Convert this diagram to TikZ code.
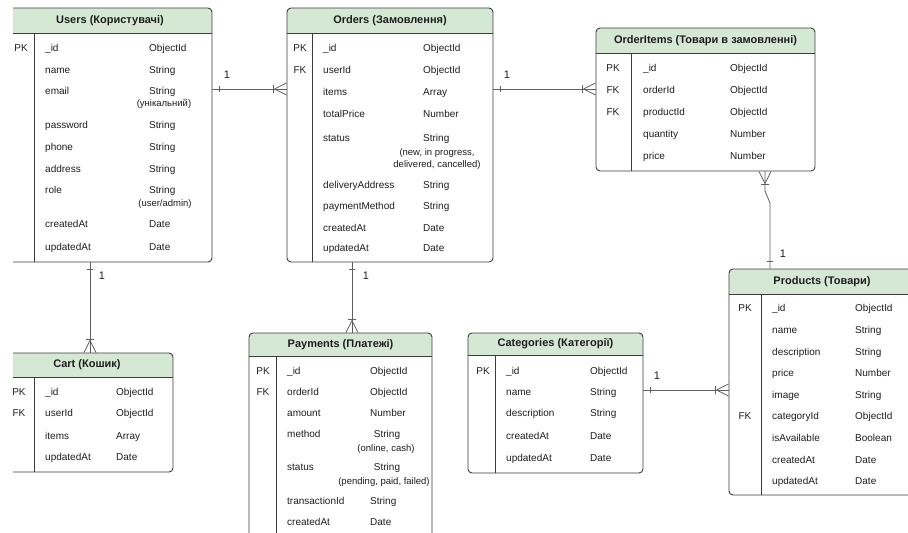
\documentclass[tikz,border=0pt]{standalone}
\usepackage{fontspec}
\setmainfont{Liberation Sans}
\usetikzlibrary{decorations.markings}
\definecolor{headgreen}{RGB}{213,232,212}
\definecolor{boxgray}{RGB}{60,60,60}
\definecolor{linkgray}{RGB}{95,95,95}
\definecolor{txtgray}{RGB}{30,30,30}

\begin{document}
\begin{tikzpicture}[x=1pt,y=-1pt]

    \tikzset{
      tablebox/.style={draw=boxgray, line width=0.9pt, rounded corners=4pt, fill=white, inner sep=0pt,
        path picture={\fill[headgreen, sharp corners] (path picture bounding box.north west) rectangle ([yshift=-#1]path picture bounding box.north east);}},
      tablebox/.default=26pt,
      boxline/.style={draw=boxgray, line width=0.9pt},
      headtext/.style={font=\fontsize{11}{13}\selectfont\bfseries, text=txtgray, inner sep=0pt},
      fieldtext/.style={anchor=west, font=\fontsize{10}{12}\selectfont, text=txtgray, inner sep=0pt, text height=7pt, text depth=0pt},
      typetext/.style={fieldtext},
      keytext/.style={fieldtext, anchor=center},
      subtext/.style={anchor=center, font=\fontsize{9.5}{11}\selectfont, text=txtgray, inner sep=0pt, text height=7pt, text depth=0pt},
      linkline/.style={draw=linkgray, line width=0.8pt},
      oneend/.style={postaction={decorate, decoration={markings, mark=at position 7pt with {\draw[linkline] (0,-3pt) -- (0,3pt);}}}},
      manyend/.style={postaction={decorate, decoration={markings, mark=at position 1 with {\draw[linkline] (-12pt,0) -- (0,6pt) (-12pt,0) -- (0,-6pt) (-13pt,-4pt) -- (-13pt,4pt);}}}},
      onelabel/.style={font=\fontsize{11}{13}\selectfont, text=txtgray, inner sep=0pt}
    }

    \useasboundingbox (0,0) rectangle (908,533);
    \fill[white] (0,0) rectangle (908,533);
    \clip (13,0) rectangle (908,533);

    % tables: name/cx/cy/width/height/header/divider/title
    \foreach \tb/\cx/\cy/\w/\h/\hh/\dx/\title in {
        users/110/135/204/254/26pt/27pt/Users (Користувачі),
        orders/390/135/206/254/26pt/26pt/Orders (Замовлення),
        items/705.5/99.5/219/143/26pt/36pt/OrderItems (Товари в замовленні),
        products/822/382/186/226/26pt/33pt/Products (Товари),
        cart/87/412.5/172/119/25pt/34pt/Cart (Кошик),
        payments/340.5/439/183/212/24pt/28pt/Payments (Платежі),
        categories/555.5/403/175/140/23pt/28pt/Categories (Категорії)}
    {
        \node[tablebox=\hh, minimum width=\w, minimum height=\h] (\tb) at (\cx,\cy) {};
        \draw[boxline] ([yshift=-\hh]\tb.north west) -- ([yshift=-\hh]\tb.north east);
        \draw[boxline] ([shift={(\dx,-\hh)}]\tb.north west) -- ([xshift=\dx]\tb.south west);
        \node[headtext] (\tb-h) at ([yshift=-0.5*\hh]\tb.north) {\title};
    }

    % Users
    \foreach \y/\f/\t [count=\i] in {48/\_id/ObjectId, 70/name/String, 91/email/String,
        125/password/String, 147/phone/String, 169/address/String, 190/role/String,
        224/createdAt/Date, 247/updatedAt/Date}
    {
        \node[fieldtext] (users-f\i) at (45,\y) {\f};
        \node[typetext] (users-t\i) at (149,\y) {\t};
    }
    \node[keytext] (users-pk) at (21,48) {PK};
    \node[subtext] (users-s1) at (164,103) {(унікальний)};
    \node[subtext] (users-s2) at (165,203) {(user/admin)};

    % Orders
    \foreach \y/\f/\t [count=\i] in {48/\_id/ObjectId, 70/userId/ObjectId, 92/items/Array,
        114/totalPrice/Number, 138/status/String, 185/deliveryAddress/String,
        206/paymentMethod/String, 228/createdAt/Date, 248/updatedAt/Date}
    {
        \node[fieldtext] (orders-f\i) at (323,\y) {\f};
        \node[typetext] (orders-t\i) at (423,\y) {\t};
    }
    \node[keytext] (orders-pk) at (300,48) {PK};
    \node[keytext] (orders-fk) at (300,70) {FK};
    \node[subtext] (orders-s1) at (437,152) {(new, in progress,};
    \node[subtext] (orders-s2) at (437,164) {delivered, cancelled)};

    % OrderItems
    \foreach \y/\f/\t [count=\i] in {68/\_id/ObjectId, 90/orderId/ObjectId, 112/productId/ObjectId,
        134/quantity/Number, 156/price/Number}
    {
        \node[fieldtext] (items-f\i) at (643,\y) {\f};
        \node[typetext] (items-t\i) at (730,\y) {\t};
    }
    \node[keytext] (items-pk) at (613,68) {PK};
    \node[keytext] (items-fk1) at (613,90) {FK};
    \node[keytext] (items-fk2) at (613,112) {FK};

    % Products
    \foreach \y/\f/\t [count=\i] in {308/\_id/ObjectId, 330/name/String, 352/description/String,
        373/price/Number, 395/image/String, 416/categoryId/ObjectId, 438/isAvailable/Boolean,
        460/createdAt/Date, 481/updatedAt/Date}
    {
        \node[fieldtext] (products-f\i) at (772,\y) {\f};
        \node[typetext] (products-t\i) at (855,\y) {\t};
    }
    \node[keytext] (products-pk) at (745,308) {PK};
    \node[keytext] (products-fk) at (745,416) {FK};

    % Cart
    \foreach \y/\f/\t [count=\i] in {392/\_id/ObjectId, 413/userId/ObjectId, 436/items/Array,
        457/updatedAt/Date}
    {
        \node[fieldtext] (cart-f\i) at (45,\y) {\f};
        \node[typetext] (cart-t\i) at (116,\y) {\t};
    }
    \node[keytext] (cart-pk) at (19,392) {PK};
    \node[keytext] (cart-fk) at (19,413) {FK};

    % Payments
    \foreach \y/\f/\t [count=\i] in {371/\_id/ObjectId, 392/orderId/ObjectId, 413/amount/Number,
        501/transactionId/String, 522/createdAt/Date}
    {
        \node[fieldtext] (payments-f\i) at (287,\y) {\f};
        \node[typetext] (payments-t\i) at (370,\y) {\t};
    }
    \node[keytext] (payments-pk) at (263,371) {PK};
    \node[keytext] (payments-fk) at (263,392) {FK};
    \node[fieldtext] (payments-f6) at (287,434) {method};
    \node[subtext, font=\fontsize{10}{12}\selectfont] (payments-t6) at (387,434) {String};
    \node[subtext] (payments-s1) at (386,448) {(online, cash)};
    \node[fieldtext] (payments-f7) at (287,467) {status};
    \node[subtext, font=\fontsize{10}{12}\selectfont] (payments-t7) at (387,467) {String};
    \node[subtext] (payments-s2) at (384,481) {(pending, paid, failed)};

    % Categories
    \foreach \y/\f/\t [count=\i] in {371/\_id/ObjectId, 392/name/String, 413/description/String,
        436/createdAt/Date, 458/updatedAt/Date}
    {
        \node[fieldtext] (categories-f\i) at (506,\y) {\f};
        \node[typetext] (categories-t\i) at (590,\y) {\t};
    }
    \node[keytext] (categories-pk) at (483,371) {PK};

    % relations
    \draw[linkline, oneend, manyend] (users.east |- 0,89) -- (orders.west |- 0,89);
    \draw[linkline, oneend, manyend] (orders.east |- 0,89) -- (items.west |- 0,89);
    \draw[linkline, oneend, manyend] (users.south -| 90,0) -- (cart.north -| 90,0);
    \draw[linkline, oneend, manyend] (orders.south -| 352,0) -- (payments.north -| 352,0);
    \draw[linkline, oneend, manyend] (categories.east |- 0,390) -- (products.west |- 0,390);
    \draw[linkline, oneend, manyend] (products.north -| 770,0) -- (770,203) -- (765,191) -- (items.south -| 765,0);

    \node[onelabel] (one1) at (227,75) {1};
    \node[onelabel] (one2) at (507,75) {1};
    \node[onelabel] (one3) at (102,276) {1};
    \node[onelabel] (one4) at (366,276) {1};
    \node[onelabel] (one5) at (657,376) {1};
    \node[onelabel] (one6) at (783,254) {1};

\end{tikzpicture}
\end{document}
